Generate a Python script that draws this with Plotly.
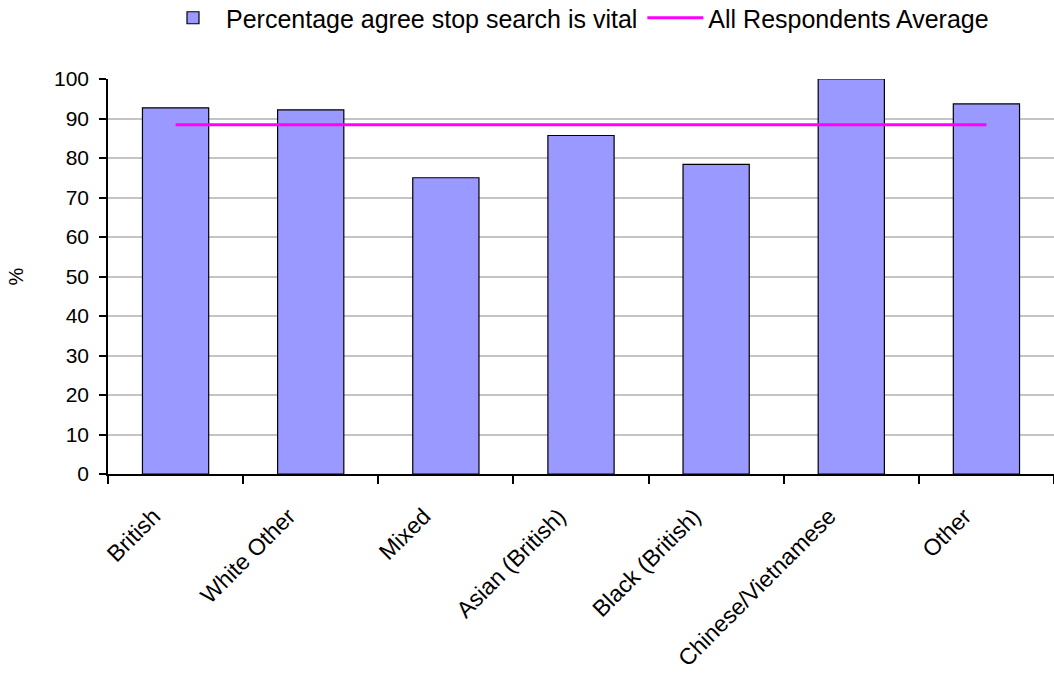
import plotly.graph_objects as go

categories = ["British", "White Other", "Mixed", "Asian (British)", "Black (British)",
              "Chinese/Vietnamese", "Other"]
agree_pct = [92.7, 92.2, 75.0, 85.7, 78.4, 100.0, 93.7]
average_pct = [88.4] * len(categories)
y_ticks = [0, 10, 20, 30, 40, 50, 60, 70, 80, 90, 100]

FONT = "Liberation Sans, Arial, sans-serif"

fig = go.Figure()
fig.add_trace(go.Bar(
    x=categories, y=agree_pct, name="Percentage agree stop search is vital",
    marker=dict(color="#9999FF", line=dict(color="#000000", width=1.2)),
    width=0.49,
))
fig.add_trace(go.Scatter(
    x=categories, y=average_pct, name="All Respondents Average",
    mode="lines", line=dict(color="#FF00FF", width=3),
))

fig.update_layout(
    width=1054, height=673,
    paper_bgcolor="white", plot_bgcolor="white",
    margin=dict(l=108, r=0, t=79, b=199),
    font=dict(family=FONT, color="#000000"),
    showlegend=True,
    legend=dict(
        orientation="h", x=(229 - 69) / 1054, xref="container", xanchor="left",
        y=1 - 18 / 673, yref="container", yanchor="middle",
        font=dict(size=25, family=FONT), itemwidth=56,
        bgcolor="rgba(0,0,0,0)", tracegroupgap=0,
    ),
    bargap=0.51,
)
fig.update_xaxes(
    type="category", range=[-0.5, 6.5],
    showline=True, linecolor="#000000", linewidth=1.5,
    ticks="outside", tickson="boundaries", ticklen=8, tickcolor="#000000", tickwidth=1.5,
    tickangle=-45, tickfont=dict(size=23, family=FONT),
    ticklabelstandoff=18, ticklabelshift=-22,
    showgrid=False,
)
fig.update_yaxes(
    range=[0, 100], tickvals=y_ticks,
    showline=True, linecolor="#000000", linewidth=1.5,
    ticks="outside", ticklen=7, tickcolor="#000000", tickwidth=1.5,
    tickfont=dict(size=21, family=FONT), ticklabelstandoff=6,
    showgrid=True, gridcolor="#c4c4c4", gridwidth=1.5,
    zeroline=False,
    title=dict(text="%", font=dict(size=20, family=FONT), standoff=25),
)

fig.write_html("out.html")
